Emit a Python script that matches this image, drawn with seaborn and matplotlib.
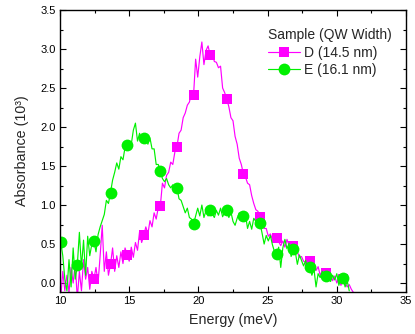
import numpy as np
import pandas as pd
import matplotlib
matplotlib.use("Agg")
import matplotlib.pyplot as plt
from matplotlib.ticker import MultipleLocator
import seaborn as sns

# Energy grids (meV), evenly spaced samples
energy_d = np.round(10.05 + 0.15 * np.arange(142), 2)
energy_e = np.round(10.05 + 0.15 * np.arange(140), 2)

# Sample D (14.5 nm) absorbance (10^3)
abs_d = [
    -0.20, 0.15, -0.10, 0.10, -0.12, 0.20, 0.00, 0.25,
    -0.20, 0.15, -0.10, 0.30, 0.05, 0.20, -0.08, 0.15,
    0.05, 0.20, 0.00, 0.35, 0.74, 0.15, 0.40, 0.10,
    0.24, 0.45, 0.15, 0.35, 0.20, 0.40, 0.25, 0.45,
    0.36, 0.28, 0.46, 0.33, 0.52, 0.42, 0.66, 0.52,
    0.61, 0.72, 0.63, 0.80, 0.72, 0.90, 0.82, 0.97,
    0.99, 1.28, 1.22, 1.38, 1.42, 1.55, 1.52, 1.68,
    1.75, 1.92, 1.96, 2.12, 2.18, 2.28, 2.32, 2.44,
    2.41, 2.87, 2.64, 2.90, 3.09, 2.80, 2.98, 3.04,
    2.92, 2.96, 2.84, 2.83, 2.76, 2.78, 2.50, 2.44,
    2.36, 2.26, 2.12, 2.08, 1.88, 1.78, 1.60, 1.52,
    1.40, 1.36, 1.28, 1.26, 1.12, 1.02, 0.94, 0.92,
    0.85, 0.82, 0.70, 0.70, 0.60, 0.63, 0.56, 0.58,
    0.58, 0.53, 0.48, 0.54, 0.46, 0.56, 0.48, 0.50,
    0.48, 0.40, 0.40, 0.33, 0.34, 0.28, 0.27, 0.26,
    0.28, 0.20, 0.26, 0.16, 0.21, 0.10, 0.16, 0.08,
    0.13, 0.06, 0.12, 0.03, 0.09, 0.00, 0.07, -0.03,
    0.05, 0.00, -0.05, -0.02, -0.08, -0.12,
]

# Sample E (16.1 nm) absorbance (10^3)
abs_e = [
    0.53, 0.35, 0.05, -0.10, 0.30, -0.05, 0.45, 0.05,
    0.23, 0.65, 0.20, 0.55, 0.10, 0.60, 0.35, 0.50,
    0.54, 0.40, 0.62, 0.72, 0.80, 0.88, 1.06, 1.02,
    1.16, 1.32, 1.42, 1.54, 1.46, 1.62, 1.58, 1.74,
    1.77, 1.82, 1.78, 1.96, 2.05, 1.82, 1.92, 1.80,
    1.86, 1.90, 1.78, 1.86, 1.72, 1.72, 1.52, 1.52,
    1.44, 1.34, 1.30, 1.34, 1.26, 1.22, 1.26, 1.16,
    1.22, 1.08, 1.06, 0.98, 0.90, 0.96, 0.84, 0.82,
    0.76, 0.86, 0.96, 0.86, 1.00, 0.84, 0.93, 0.86,
    0.94, 0.89, 0.84, 0.93, 0.87, 0.96, 0.85, 0.91,
    0.93, 0.84, 0.91, 0.79, 0.74, 0.83, 0.90, 0.82,
    0.86, 0.88, 0.70, 0.79, 0.69, 0.83, 0.79, 0.74,
    0.77, 0.64, 0.50, 0.61, 0.54, 0.61, 0.49, 0.40,
    0.37, 0.46, 0.20, 0.45, 0.56, 0.44, 0.51, 0.34,
    0.44, 0.40, 0.24, 0.36, 0.29, 0.22, 0.29, 0.18,
    0.20, 0.10, 0.18, -0.05, 0.12, 0.07, 0.15, 0.04,
    0.09, 0.12, 0.02, 0.10, 0.04, 0.12, -0.03, 0.08,
    0.06, -0.05, 0.03, -0.10,
]

labels = ["D (14.5 nm)", "E (16.1 nm)"]
colors = ["#ff00ff", "#00f000"]
x_ticks = [10, 15, 20, 25, 30, 35]
legend_title = "Sample (QW Width)"

sns.set_theme(style="ticks")
plt.rcParams["font.family"] = ["Liberation Sans", "DejaVu Sans"]

fig = plt.figure(figsize=(4.15, 3.34), dpi=100)
ax = fig.add_axes([0.1446, 0.1257, 0.8337, 0.8443])

sns.lineplot(x=energy_d, y=abs_d, ax=ax, color=colors[0], linewidth=0.85,
             marker="s", markersize=7.5, markeredgewidth=0, markevery=8,
             estimator=None, sort=False, label=labels[0])
sns.lineplot(x=energy_e, y=abs_e, ax=ax, color=colors[1], linewidth=0.85,
             marker="o", markersize=8.5, markeredgewidth=0, markevery=8,
             estimator=None, sort=False, label=labels[1])

ax.set_xlim(10, 35)
ax.set_ylim(-0.115, 3.5)
ax.set_xticks(x_ticks)
ax.xaxis.set_minor_locator(MultipleLocator(2.5))
ax.yaxis.set_major_locator(MultipleLocator(0.5))
ax.yaxis.set_minor_locator(MultipleLocator(0.25))
ax.tick_params(which="both", direction="in", top=True, right=True,
               width=0.8, colors="black", labelsize=8, pad=3)
ax.tick_params(which="major", length=4)
ax.tick_params(which="minor", length=2)
for s in ax.spines.values():
    s.set_linewidth(1.0)
    s.set_color("black")

ax.set_xlabel("Energy (meV)", fontsize=10.3, labelpad=5)
ax.set_ylabel("Absorbance (10³)", fontsize=10.3, labelpad=8)

leg = ax.legend(title=legend_title, frameon=False, loc="upper left",
                bbox_to_anchor=(0.6, 0.935), fontsize=10, title_fontsize=10,
                handlelength=2.3, handletextpad=0.3, labelspacing=0.25,
                borderaxespad=0, borderpad=0)
leg._legend_box.align = "left"

fig.savefig("out.png", dpi=100)
